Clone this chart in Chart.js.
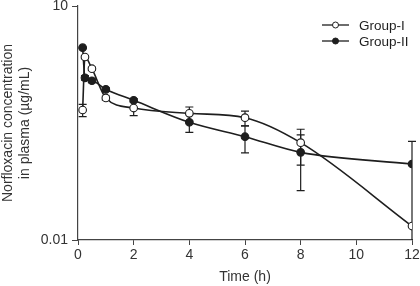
<!DOCTYPE html>
<html>
<head>
<meta charset="utf-8">
<script src="https://cdn.jsdelivr.net/npm/chart.js@4.4.1/dist/chart.umd.min.js"></script>
<style>
  html, body { margin: 0; padding: 0; background: #fff; }
  canvas { display: block; }
</style>
</head>
<body>
<canvas id="c" width="420" height="286"></canvas>
<script>
// ---- data ----
const times = [0.167, 0.25, 0.5, 1, 2, 4, 6, 8, 12];
const groupI = [0.464, 2.22, 1.57, 0.662, 0.492, 0.421, 0.370, 0.177, 0.0151];
const groupISd = [0.083, 0.10, 0.08, 0.04, 0.10, 0.086, 0.08, 0.086, 0];
const groupII = [2.92, 1.20, 1.10, 0.855, 0.618, 0.323, 0.211, 0.133, 0.0943];
const groupIISd = [0.05, 0.08, 0.06, 0.04, 0.03, 0.083, 0.08, 0.09, 0.09];
const seriesLabels = ['Group-I', 'Group-II'];
const xTicks = [0, 2, 4, 6, 8, 10, 12];
const yTicks = [0.01, 10];
const xTitle = 'Time (h)';
const yTitle = ['Norfloxacin concentration', 'in plasma (\u00b5g/mL)'];

const FONT = '"Liberation Sans", Arial, Helvetica, sans-serif';
const INK = '#1e1e1e';
const AXIS = '#444';

function pts(xs, ys) { return xs.map((x, i) => ({ x: x, y: ys[i] })); }

const errorBars = {
  id: 'errorBars',
  beforeDatasetsDraw(chart) {
    const ctx = chart.ctx;
    const ys = chart.scales.y, xs = chart.scales.x;
    const area = chart.chartArea;
    const sds = [groupISd, groupIISd];
    ctx.save();
    ctx.strokeStyle = INK;
    ctx.lineWidth = 1.2;
    chart.data.datasets.forEach((ds, di) => {
      ds.data.forEach((p, i) => {
        const sd = sds[di][i];
        if (!sd) return;
        const x = xs.getPixelForValue(p.x);
        const hi = p.y + sd, lo = p.y - sd;
        let yHi = ys.getPixelForValue(hi);
        let yLo = lo > 0 ? ys.getPixelForValue(lo) : area.bottom;
        const loClipped = yLo >= area.bottom;
        yLo = Math.min(yLo, area.bottom);
        ctx.beginPath();
        ctx.moveTo(x, yHi); ctx.lineTo(x, yLo);
        ctx.moveTo(x - 4, yHi); ctx.lineTo(x + 4, yHi);
        if (!loClipped) { ctx.moveTo(x - 4, yLo); ctx.lineTo(x + 4, yLo); }
        ctx.stroke();
      });
    });
    ctx.restore();
  }
};

const customLegend = {
  id: 'customLegend',
  afterDraw(chart) {
    const ctx = chart.ctx;
    const area = chart.chartArea;
    ctx.save();
    chart.data.datasets.forEach((ds, i) => {
      const y = area.top + 19 + i * 16;
      const x0 = area.right - 90, x1 = area.right - 63;
      const xm = (x0 + x1) / 2;
      ctx.strokeStyle = INK; ctx.lineWidth = 1.3;
      ctx.beginPath(); ctx.moveTo(x0, y); ctx.lineTo(x1, y); ctx.stroke();
      ctx.beginPath(); ctx.arc(xm, y, 3, 0, Math.PI * 2);
      ctx.fillStyle = ds.pointBackgroundColor; ctx.fill();
      ctx.lineWidth = 1; ctx.stroke();
      ctx.fillStyle = INK;
      ctx.font = '13.5px ' + FONT;
      ctx.textAlign = 'left'; ctx.textBaseline = 'middle';
      ctx.fillText(ds.label, area.right - 53, y + 1);
    });
    ctx.restore();
  }
};

new Chart(document.getElementById('c'), {
  type: 'line',
  data: {
    datasets: [
      {
        label: seriesLabels[0],
        data: pts(times, groupI),
        borderColor: INK, borderWidth: 1.6,
        pointBackgroundColor: '#fff', pointBorderColor: INK,
        pointBorderWidth: 1.1, pointRadius: 3.8,
        cubicInterpolationMode: 'monotone', fill: false
      },
      {
        label: seriesLabels[1],
        data: pts(times, groupII),
        borderColor: INK, borderWidth: 1.6,
        pointBackgroundColor: INK, pointBorderColor: INK,
        pointBorderWidth: 1.1, pointRadius: 3.8,
        cubicInterpolationMode: 'monotone', fill: false
      }
    ]
  },
  options: {
    responsive: false,
    animation: false,
    devicePixelRatio: 1,
    layout: { padding: { top: 6, right: 8, left: 0, bottom: 0 } },
    plugins: { legend: { display: false }, tooltip: { enabled: false } },
    scales: {
      x: {
        type: 'linear', min: 0, max: 12,
        afterBuildTicks(s) { s.ticks = xTicks.map(v => ({ value: v })); },
        afterFit(s) { s.height = 46; s.paddingLeft = 0; s.paddingRight = 0; },
        grid: { drawOnChartArea: false, drawTicks: true, tickLength: 5, color: AXIS, tickColor: AXIS },
        border: { display: true, color: AXIS, width: 1.2 },
        ticks: { color: '#333', font: { family: FONT, size: 14 }, padding: 2, maxRotation: 0 },
        title: { display: true, text: xTitle, color: '#333', font: { family: FONT, size: 14 }, padding: { top: 0, bottom: 0 } }
      },
      y: {
        type: 'logarithmic', min: 0.01, max: 10,
        afterBuildTicks(s) { s.ticks = yTicks.map(v => ({ value: v })); },
        afterFit(s) { s.width = 78; s.paddingTop = 0; s.paddingBottom = 0; },
        grid: { drawOnChartArea: false, drawTicks: true, tickLength: 6, color: AXIS, tickColor: AXIS },
        border: { display: true, color: AXIS, width: 1.2 },
        ticks: {
          color: '#333', font: { family: FONT, size: 14 }, padding: 4,
          callback: (v) => String(v)
        },
        title: { display: true, text: yTitle, color: '#333', font: { family: FONT, size: 14, lineHeight: 1.2 }, padding: { top: 0, bottom: 0 } }
      }
    }
  },
  plugins: [errorBars, customLegend]
});
</script>
</body>
</html>
